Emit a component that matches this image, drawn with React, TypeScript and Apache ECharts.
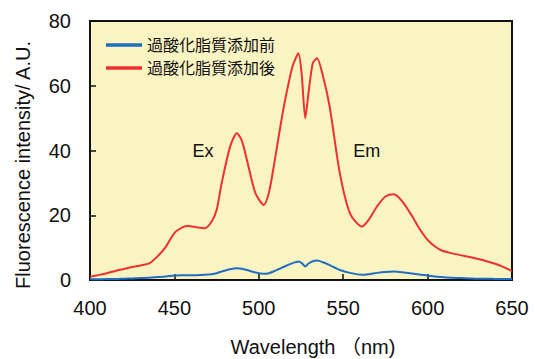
import React, { useEffect, useRef } from "react";
import * as echarts from "echarts";

const wavelengths = [400, 405, 410, 415, 420, 425, 430, 435, 440, 445, 450, 455, 458, 463, 468, 472, 475, 478, 483, 487, 490, 493, 498, 503, 506, 509, 512, 515, 520, 523.5, 525.5, 527.5, 529.5, 532, 534.5, 538, 542, 548, 554, 561, 565, 570, 575, 580, 585, 591, 595, 600, 604, 608, 614, 620, 625, 630, 635, 640, 645, 650];
const afterValues = [1, 1.5, 2.1, 2.8, 3.4, 4, 4.5, 5.1, 7.3, 10.3, 14.5, 16.3, 16.7, 16.3, 16, 18, 21.6, 29.9, 41.2, 45.3, 43, 37, 26.8, 23.2, 27, 35.5, 45, 54, 66, 70, 63, 50, 58, 67, 68.5, 63, 53.5, 33, 20.6, 16.5, 18.5, 22.7, 25.8, 26.5, 24.3, 19.6, 16, 12.4, 10.5, 9.2, 8.3, 7.6, 7.1, 6.5, 5.8, 5, 4, 2.8];
const beforeValues = [0.2, 0.2, 0.3, 0.3, 0.4, 0.5, 0.6, 0.7, 0.9, 1.1, 1.4, 1.5, 1.5, 1.5, 1.6, 1.8, 2.1, 2.6, 3.3, 3.6, 3.5, 3.1, 2.3, 1.9, 2.1, 2.7, 3.4, 4.1, 5.2, 5.7, 5.2, 4.2, 5.1, 5.8, 6, 5.5, 4.6, 3.1, 2.2, 1.6, 1.8, 2.2, 2.5, 2.6, 2.4, 2, 1.7, 1.4, 1.1, 0.9, 0.7, 0.6, 0.5, 0.4, 0.4, 0.3, 0.3, 0.3];
const seriesNames = ["過酸化脂質添加前", "過酸化脂質添加後"];
const annotations = [
  { text: "Ex", x: 467, y: 40 },
  { text: "Em", x: 564, y: 40 },
];
const xTitle = "Wavelength （nm)";
const yTitle = "Fluorescence intensity/ A.U.";

export default function App() {
  const ref = useRef<HTMLDivElement>(null);
  useEffect(() => {
    if (!ref.current) return;
    const chart = echarts.init(ref.current, null, { renderer: "svg" });
    const font = "'Liberation Sans', Arial, sans-serif";
    const cjk = "'Liberation Sans', 'Noto Sans CJK JP', sans-serif";
    chart.setOption({
      animation: false,
      backgroundColor: "#ffffff",
      textStyle: { fontFamily: font },
      grid: {
        left: 90,
        right: 23,
        top: 21,
        bottom: 79,
        show: true,
        backgroundColor: "#FAF4C2",
        borderColor: "#111",
        borderWidth: 2,
      },
      legend: {
        orient: "vertical",
        left: 101,
        top: 32,
        itemWidth: 36,
        itemHeight: 14,
        itemGap: 7,
        icon: "path://M0,0 L10,0 L10,1 L0,1 Z",
        textStyle: { fontFamily: cjk, fontSize: 16, lineHeight: 16, color: "#111" },
        data: seriesNames,
      },
      graphic: [
        {
          type: "text",
          x: 313,
          y: 347,
          style: {
            text: xTitle,
            font: `20px ${cjk}`,
            fill: "#111",
            align: "center",
            verticalAlign: "middle",
          },
        },
        {
          type: "text",
          x: 23,
          y: 165,
          rotation: Math.PI / 2,
          style: {
            text: yTitle,
            font: `20px ${font}`,
            fill: "#111",
            align: "center",
            verticalAlign: "middle",
          },
        },
      ],
      xAxis: {
        type: "value",
        min: 400,
        max: 650,
        interval: 50,
        axisLine: { lineStyle: { color: "#111", width: 2 } },
        axisTick: { inside: true, length: 6, lineStyle: { color: "#111", width: 1.5 } },
        axisLabel: { fontSize: 20, color: "#111", margin: 18 },
        splitLine: { show: false },
      },
      yAxis: {
        type: "value",
        min: 0,
        max: 80,
        interval: 20,
        axisLine: { show: true, lineStyle: { color: "#111", width: 2 } },
        axisTick: { show: true, inside: true, length: 6, lineStyle: { color: "#111", width: 1.5 } },
        axisLabel: { fontSize: 20, color: "#111", margin: 19 },
        splitLine: { show: false },
      },
      series: [
        {
          name: seriesNames[0],
          type: "line",
          symbol: "none",
          smooth: 0.25,
          lineStyle: { color: "#1F6EC2", width: 2 },
          itemStyle: { color: "#1F6EC2" },
          data: wavelengths.map((w, i) => [w, beforeValues[i]]),
        },
        {
          name: seriesNames[1],
          type: "line",
          symbol: "none",
          smooth: 0.25,
          lineStyle: { color: "#EE3030", width: 2 },
          itemStyle: { color: "#EE3030" },
          data: wavelengths.map((w, i) => [w, afterValues[i]]),
          markPoint: {
            symbol: "circle",
            symbolSize: 0,
            label: {
              show: true,
              position: "inside",
              fontSize: 18,
              color: "#111",
              formatter: (p: any) => p.name,
            },
            data: annotations.map((a) => ({ name: a.text, coord: [a.x, a.y] })),
          },
        },
      ],
    });
    return () => chart.dispose();
  }, []);
  return <div ref={ref} style={{ width: 535, height: 359, position: "absolute", left: 0, top: 0 }} />;
}
